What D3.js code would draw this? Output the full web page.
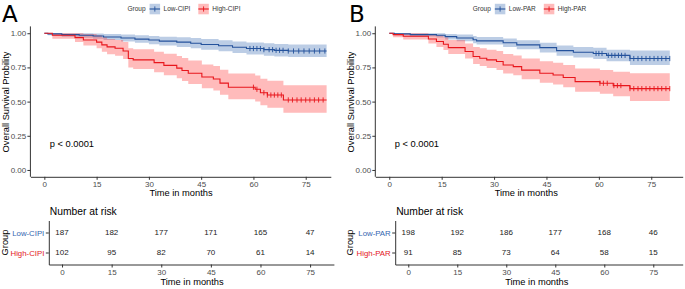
<!DOCTYPE html>
<html>
<head>
<meta charset="utf-8">
<script src="https://cdn.jsdelivr.net/npm/d3@7"></script>
<style>
  body { margin: 0; background: #fff; }
  text { font-family: "Liberation Sans", Arial, sans-serif; }
</style>
</head>
<body>
<svg id="drawing_region"></svg>
<script>
// shared ticks
const timeTicks = [0, 15, 30, 45, 60, 75];
const survTicks = [0, 0.25, 0.5, 0.75, 1];

// ---- Panel A : CIPI ----
const groupsA = ['Low-CIPI', 'High-CIPI'];
const timeLowA  = [0, 1, 5, 10, 14, 17, 22, 26, 30, 33, 38, 42, 45, 50, 54, 58, 63, 66, 70];
const survLowA  = [1, 0.995, 0.99, 0.985, 0.98, 0.972, 0.965, 0.957, 0.95, 0.942, 0.935, 0.927, 0.918, 0.908, 0.898, 0.888, 0.88, 0.875, 0.87];
const lowerLowA = [1, 0.985, 0.975, 0.967, 0.96, 0.95, 0.94, 0.93, 0.92, 0.91, 0.9, 0.89, 0.88, 0.868, 0.856, 0.845, 0.836, 0.83, 0.826];
const upperLowA = [1, 1, 1, 1, 0.998, 0.994, 0.99, 0.985, 0.98, 0.975, 0.97, 0.965, 0.957, 0.948, 0.94, 0.932, 0.926, 0.922, 0.918];
const censorLowA = [59, 60, 61, 62, 63, 64.5, 65.5, 66.5, 67.5, 68.5, 70, 71.5, 73, 74.5, 76, 77.5, 79, 80.5];

const timeHighA  = [0, 2.3, 8.8, 11.2, 15, 16.5, 18, 20.3, 22.6, 24.1, 25.5, 31.5, 34.3, 38, 39.5, 41.3, 45.2, 48.5, 50.4, 52.8, 60.5, 62, 64, 68.6];
const survHighA  = [1, 0.985, 0.968, 0.951, 0.935, 0.915, 0.9, 0.89, 0.87, 0.815, 0.805, 0.785, 0.765, 0.745, 0.727, 0.707, 0.68, 0.665, 0.635, 0.605, 0.59, 0.565, 0.548, 0.512];
const lowerHighA = [1, 0.96, 0.935, 0.91, 0.89, 0.865, 0.847, 0.835, 0.812, 0.75, 0.738, 0.715, 0.693, 0.67, 0.65, 0.628, 0.598, 0.582, 0.55, 0.518, 0.5, 0.473, 0.455, 0.418];
const upperHighA = [1, 1, 1, 0.995, 0.985, 0.97, 0.958, 0.95, 0.935, 0.89, 0.882, 0.865, 0.85, 0.833, 0.818, 0.8, 0.772, 0.76, 0.733, 0.706, 0.69, 0.668, 0.652, 0.62];
const censorHighA = [60, 61, 63, 64, 65, 66, 67, 68, 70, 71.2, 72.5, 73.7, 75, 76.2, 77.5, 78.7, 80];

const riskLowA  = [187, 182, 177, 171, 165, 47];
const riskHighA = [102, 95, 82, 70, 61, 14];

// ---- Panel B : PAR ----
const groupsB = ['Low-PAR', 'High-PAR'];
const timeLowB  = [0, 1.5, 6, 13.5, 16, 19.3, 24, 25, 32.6, 36.5, 43.1, 47.9, 52.7, 58.4, 62.2, 68.9];
const survLowB  = [1, 0.995, 0.99, 0.985, 0.975, 0.965, 0.952, 0.944, 0.93, 0.915, 0.895, 0.873, 0.861, 0.852, 0.838, 0.815];
const lowerLowB = [1, 0.985, 0.976, 0.968, 0.955, 0.942, 0.927, 0.917, 0.9, 0.883, 0.86, 0.836, 0.822, 0.812, 0.796, 0.768];
const upperLowB = [1, 1, 1, 1, 0.995, 0.99, 0.98, 0.973, 0.962, 0.948, 0.93, 0.911, 0.9, 0.893, 0.88, 0.874];
const censorLowB = [59.2, 60, 60.9, 62.7, 63.7, 64.6, 65.6, 66.5, 67.5, 68.9, 70, 71.2, 72.3, 73.5, 74.6, 75.8, 76.9, 78, 79.2, 80.3];

const timeHighB  = [0, 1.1, 4, 11.2, 13.5, 15.5, 16.9, 21.7, 24, 25.9, 27.9, 30.7, 32.6, 35.5, 37.9, 43.1, 46.9, 49.8, 53.2, 60.3, 64.1, 68.9];
const survHighB  = [1, 0.99, 0.978, 0.958, 0.94, 0.92, 0.895, 0.866, 0.83, 0.817, 0.805, 0.793, 0.768, 0.756, 0.73, 0.707, 0.695, 0.676, 0.646, 0.634, 0.617, 0.595];
const lowerHighB = [1, 0.97, 0.955, 0.925, 0.9, 0.877, 0.848, 0.815, 0.775, 0.76, 0.746, 0.732, 0.705, 0.692, 0.664, 0.638, 0.625, 0.605, 0.572, 0.558, 0.54, 0.505];
const upperHighB = [1, 1, 1, 0.995, 0.985, 0.97, 0.95, 0.925, 0.9, 0.89, 0.88, 0.87, 0.848, 0.838, 0.815, 0.795, 0.785, 0.768, 0.742, 0.732, 0.718, 0.708];
const censorHighB = [60.3, 61.3, 62.4, 64.3, 65.3, 66.3, 68.9, 70, 71.2, 72.3, 73.5, 74.6, 75.8, 76.9, 78, 79.2, 80.3];

const riskLowB  = [198, 192, 186, 177, 168, 46];
const riskHighB = [91, 85, 73, 64, 58, 15];

const colors = {
    low:  { line: '#24529c', fill: '#3f6fb5', text: '#3366b0' },
    high: { line: '#e8161c', fill: '#ff3b3b', text: '#e3161c' }
};

function toSteps( times, surv, lower, upper, end ) {
    const pts = times.map( (t, i) => ({ t: t, s: surv[i], lo: lower[i], hi: upper[i] }) );
    const last = pts[pts.length - 1];
    pts.push({ t: end, s: last.s, lo: last.lo, hi: last.hi });
    return pts;
}

class KMPanel {

    constructor( config, data ) {
        this.config = config;
        this.data = data;
        this.init();
    }

    init() {
        let self = this;
        const c = self.config;

        self.svg = d3.select('#drawing_region');

        self.xscale = d3.scaleLinear()
            .domain( c.xdomain )
            .range( [c.plotLeft, c.plotRight] );

        self.yscale = d3.scaleLinear()
            .domain( [-0.05, 1.05] )
            .range( [176.8, 26.4] );

        self.tscale = d3.scaleLinear()
            .domain( c.xdomain )
            .range( [c.tableLeft, c.plotRight + (c.tableExtra || 0)] );

        self.rowscale = d3.scalePoint()
            .domain( c.groups )
            .range( [220.5, 264.5] )
            .padding( 0.6 );

        self.line = d3.line()
            .x( d => self.xscale(d.t) )
            .y( d => self.yscale(d.s) )
            .curve( d3.curveStepAfter );

        self.area = d3.area()
            .x( d => self.xscale(d.t) )
            .y0( d => self.yscale(d.lo) )
            .y1( d => self.yscale(d.hi) )
            .curve( d3.curveStepAfter );
    }

    render() {
        let self = this;
        const c = self.config;
        const g = self.svg.append('g');

        // panel letter
        g.append('text')
            .attr('x', c.letterX).attr('y', 22)
            .attr('font-size', 23)
            .style('font-family', '"DejaVu Sans", sans-serif')
            .text( c.letter );

        // ribbons then lines
        const series = [
            { key: 'low',  pts: self.data.low,  censor: self.data.censorLow },
            { key: 'high', pts: self.data.high, censor: self.data.censorHigh }
        ];

        series.forEach( sr => {
            g.append('path')
                .attr('d', self.area(sr.pts))
                .attr('fill', colors[sr.key].fill)
                .attr('fill-opacity', 0.35)
                .attr('stroke', 'none');
        });

        series.forEach( sr => {
            g.append('path')
                .attr('d', self.line(sr.pts))
                .attr('fill', 'none')
                .attr('stroke', colors[sr.key].line)
                .attr('stroke-width', 1.1);

            const survAt = t => {
                let v = sr.pts[0].s;
                sr.pts.forEach( p => { if (p.t <= t) v = p.s; });
                return v;
            };

            g.selectAll(null)
                .data( sr.censor )
                .enter()
                .append('line')
                .attr('x1', d => self.xscale(d))
                .attr('x2', d => self.xscale(d))
                .attr('y1', d => self.yscale(survAt(d)) - 2.6)
                .attr('y2', d => self.yscale(survAt(d)) + 2.6)
                .attr('stroke', colors[sr.key].line)
                .attr('stroke-width', 0.9);
        });

        // axes
        const xaxis = d3.axisBottom( self.xscale )
            .tickValues( timeTicks ).tickSize(3).tickSizeOuter(0).tickPadding(1.5);
        const yaxis = d3.axisLeft( self.yscale )
            .tickValues( survTicks ).tickFormat( d3.format('.2f') )
            .tickSize(3).tickSizeOuter(0).tickPadding(1.2);

        const xg = g.append('g')
            .attr('transform', 'translate(0,176.8)')
            .call( xaxis );
        const yg = g.append('g')
            .attr('transform', `translate(${c.plotLeft},0)`)
            .call( yaxis );

        // y axis should start at the very bottom of the panel
        yg.select('.domain').attr('d', `M0,26.4V176.8`);

        [xg, yg].forEach( ag => {
            ag.select('.domain').attr('stroke', '#333').attr('stroke-width', 1);
            ag.selectAll('.tick line').attr('stroke', '#333');
            ag.selectAll('.tick text')
                .attr('font-size', 8)
                .attr('fill', '#4d4d4d')
                .style('font-family', '"Liberation Sans", Arial, sans-serif');
        });

        g.append('text')
            .attr('x', (self.xscale(0) + self.xscale(75)) / 2 + 6)
            .attr('y', 196)
            .attr('text-anchor', 'middle')
            .attr('font-size', 9.3)
            .text('Time in months');

        g.append('text')
            .attr('transform', `translate(${c.plotLeft - 21.5},102) rotate(-90)`)
            .attr('text-anchor', 'middle')
            .attr('font-size', 9.3)
            .text('Overall Survival Probility');

        g.append('text')
            .attr('x', self.xscale(0) + 5.5)
            .attr('y', 147.3)
            .attr('font-size', 9.3)
            .text('p < 0.0001');

        // legend
        const leg = g.append('g').attr('font-size', 6.5);
        const parts = [];
        let x = 0;
        const gt = leg.append('text').attr('y', 11.3).attr('fill', '#333').text('Group');
        parts.push({ node: gt, x: 0 });
        x += gt.node().getComputedTextLength() + 4;
        c.groups.forEach( (name, i) => {
            const key = i === 0 ? 'low' : 'high';
            const kg = leg.append('g');
            kg.append('rect')
                .attr('width', 10.5).attr('height', 10.5).attr('y', 3.8)
                .attr('fill', colors[key].fill).attr('fill-opacity', 0.35);
            kg.append('line')
                .attr('x1', 0).attr('x2', 10.5).attr('y1', 9).attr('y2', 9)
                .attr('stroke', colors[key].line).attr('stroke-width', 1.1);
            kg.append('line')
                .attr('x1', 5.25).attr('x2', 5.25).attr('y1', 6.4).attr('y2', 11.6)
                .attr('stroke', colors[key].line).attr('stroke-width', 0.9);
            parts.push({ node: kg, x: x, group: true });
            x += 10.5 + 3.5;
            const lt = leg.append('text').attr('y', 11.3).attr('fill', '#333').text(name);
            parts.push({ node: lt, x: x });
            x += lt.node().getComputedTextLength() + 8;
        });
        const total = x - 8;
        const x0 = c.legendCenter - total / 2;
        parts.forEach( p => {
            if (p.group) p.node.attr('transform', `translate(${x0 + p.x},0)`);
            else p.node.attr('x', x0 + p.x);
        });

        // ---- risk table ----
        g.append('text')
            .attr('x', c.tableLeft + 1)
            .attr('y', 214.5)
            .attr('font-size', 10.3)
            .text('Number at risk');

        const taxis = d3.axisBottom( self.tscale )
            .tickValues( timeTicks ).tickSize(3).tickSizeOuter(0).tickPadding(2);
        const raxis = d3.axisLeft( self.rowscale )
            .tickSize(3).tickSizeOuter(0).tickPadding(1.5);

        const tg = g.append('g')
            .attr('transform', 'translate(0,264.5)')
            .call( taxis );
        const rg = g.append('g')
            .attr('transform', `translate(${c.tableLeft},0)`)
            .call( raxis );

        [tg, rg].forEach( ag => {
            ag.select('.domain').attr('stroke', '#333').attr('stroke-width', 1);
            ag.selectAll('.tick line').attr('stroke', '#333');
            ag.selectAll('.tick text')
                .attr('font-size', 8)
                .attr('fill', '#4d4d4d')
                .style('font-family', '"Liberation Sans", Arial, sans-serif');
        });
        rg.selectAll('.tick text')
            .attr('font-size', 7.8)
            .attr('fill', (d, i) => i === 0 ? colors.low.text : colors.high.text);

        const rows = [
            { name: c.groups[0], values: self.data.riskLow },
            { name: c.groups[1], values: self.data.riskHigh }
        ];
        rows.forEach( r => {
            g.selectAll(null)
                .data( r.values )
                .enter()
                .append('text')
                .attr('x', (d, i) => self.tscale(timeTicks[i]))
                .attr('y', self.rowscale(r.name))
                .attr('dy', '0.35em')
                .attr('text-anchor', 'middle')
                .attr('font-size', 8)
                .attr('fill', '#222')
                .text( d => d );
        });

        g.append('text')
            .attr('transform', `translate(${c.groupX},242.5) rotate(-90)`)
            .attr('text-anchor', 'middle')
            .attr('dy', '0.35em')
            .attr('font-size', 9.3)
            .text('Group');

        g.append('text')
            .attr('x', (self.tscale(0) + self.tscale(75)) / 2 + 6)
            .attr('y', 285)
            .attr('text-anchor', 'middle')
            .attr('font-size', 9.3)
            .text('Time in months');
    }
}

d3.select('#drawing_region').attr('width', 685).attr('height', 289);

const panelA = new KMPanel(
    { letter: 'A', letterX: 2, groups: groupsA, xdomain: [-4, 82.2],
      plotLeft: 30.4, plotRight: 330.8, tableLeft: 48.8, tableExtra: 3.1,
      legendCenter: 184, groupX: 5 },
    { low:  toSteps(timeLowA, survLowA, lowerLowA, upperLowA, 81),
      high: toSteps(timeHighA, survHighA, lowerHighA, upperHighA, 81),
      censorLow: censorLowA, censorHigh: censorHighA,
      riskLow: riskLowA, riskHigh: riskHighA }
);
panelA.render();

const panelB = new KMPanel(
    { letter: 'B', letterX: 349, groups: groupsB, xdomain: [-4, 84],
      plotLeft: 375.3, plotRight: 682.7, tableLeft: 395.2, tableExtra: 0,
      legendCenter: 529.5, groupX: 350 },
    { low:  toSteps(timeLowB, survLowB, lowerLowB, upperLowB, 80.3),
      high: toSteps(timeHighB, survHighB, lowerHighB, upperHighB, 80.3),
      censorLow: censorLowB, censorHigh: censorHighB,
      riskLow: riskLowB, riskHigh: riskHighB }
);
panelB.render();
</script>
</body>
</html>
